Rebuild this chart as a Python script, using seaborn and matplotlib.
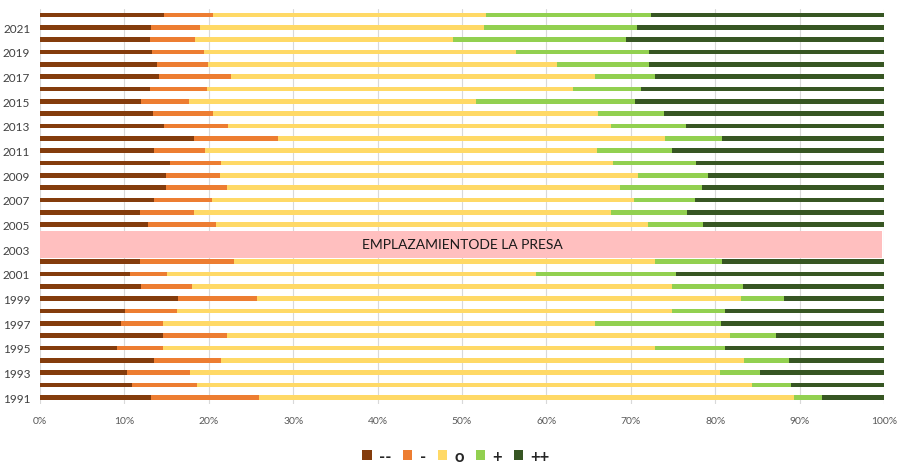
import numpy as np
import pandas as pd
import matplotlib
matplotlib.use("Agg")
import matplotlib.pyplot as plt
from matplotlib.patches import Patch, Rectangle
import seaborn as sns

# ---- data (percent per category), years from 2022 (top) down to 1991 ----
years = list(range(2022, 1990, -1))
nan = np.nan
very_neg = [14.7, 13.2, 13.0, 13.3, 13.9, 14.1, 13.0, 12.0, 13.4, 14.7, 18.2, 13.5, 15.4, 14.9, 14.9, 13.5, 11.9, 12.8,
            nan, nan,
            11.8, 10.7, 12.0, 16.3, 10.1, 9.6, 14.6, 9.1, 13.5, 10.3, 10.9, 13.1]
neg = [5.8, 5.7, 5.4, 6.1, 6.0, 8.5, 6.8, 5.6, 7.1, 7.6, 10.0, 6.1, 6.0, 6.4, 7.2, 6.9, 6.3, 8.0,
       nan, nan,
       11.2, 4.4, 6.0, 9.4, 6.1, 5.0, 7.6, 5.5, 7.9, 7.5, 7.7, 12.9]
neutral = [32.3, 33.7, 30.5, 37.0, 41.4, 43.2, 43.3, 34.0, 45.6, 45.4, 45.9, 46.4, 46.5, 49.6, 46.6, 50.0, 49.4, 51.2,
           nan, nan,
           49.9, 43.7, 56.9, 57.4, 58.7, 51.2, 59.6, 58.3, 62.0, 62.8, 65.8, 63.3]
pos = [19.6, 18.1, 20.5, 15.7, 10.8, 7.1, 8.1, 18.9, 7.8, 8.8, 6.7, 8.9, 9.8, 8.2, 9.7, 7.2, 9.0, 6.6,
       nan, nan,
       7.9, 16.5, 8.4, 5.1, 6.3, 14.9, 5.4, 8.3, 5.3, 4.7, 4.6, 3.4]
very_pos = [27.6, 29.3, 30.6, 27.9, 27.9, 27.1, 28.8, 29.5, 26.1, 23.5, 19.2, 25.1, 22.3, 20.9, 21.6, 22.4, 23.4, 21.4,
            nan, nan,
            19.2, 24.7, 16.7, 11.8, 18.8, 19.3, 12.8, 18.8, 11.3, 14.7, 11.0, 7.3]

labels = ["--", "-", "o", "+", "++"]
colors = ["#843C0C", "#ED7D31", "#FFD966", "#92D050", "#375623"]
band_text = "EMPLAZAMIENTODE LA PRESA"
band_years = (2004.49, 2002.32)

series = [very_neg, neg, neutral, pos, very_pos]
ycats = [str(y) for y in years]
df = pd.DataFrame({"year": ycats})
cum = np.zeros(len(years))
for lab, vals in zip(labels, series):
    cum = cum + np.array(vals, dtype=float)
    df[lab] = cum.copy()
# normalise so the last cumulative is 100
df[labels] = df[labels].div(df[labels[-1]], axis=0) * 100

sns.set_theme(style="white")
plt.rcParams["font.family"] = ["Lato", "DejaVu Sans"]

fig = plt.figure(figsize=(8.98, 4.64), dpi=100)
ax = fig.add_axes([40 / 898, 1 - 404.5 / 464, (884 - 40) / 898, (404.5 - 9.8) / 464])

for lab, col in zip(labels[::-1], colors[::-1]):
    sns.barplot(data=df, x=lab, y="year", order=ycats, orient="h", color=col,
                width=0.4, errorbar=None, ax=ax, saturation=1, linewidth=0)

ax.set_xlim(0, 100)
ax.set_ylim(len(years) - 0.5, -0.5)
ax.set_xticks(np.arange(0, 101, 10))
ax.set_xticklabels([f"{v}%" for v in range(0, 101, 10)], fontsize=7.5, color="#595959")
odd_pos = [i for i, y in enumerate(years) if y % 2 == 1]
ax.set_yticks(odd_pos)
ax.set_yticklabels([str(years[i]) for i in odd_pos], fontsize=8.5, color="#404040")
ax.tick_params(axis="both", length=0)
ax.tick_params(axis="y", pad=7)
ax.tick_params(axis="x", pad=9)
ax.set_xlabel("")
ax.set_ylabel("")
ax.xaxis.grid(True, color="#D9D9D9", linewidth=0.8)
ax.set_axisbelow(True)
for s in ax.spines.values():
    s.set_visible(False)

# band marking the dam location
top = 2022 - band_years[0]
bot = 2022 - band_years[1]
ax.add_patch(Rectangle((0, top), 99.8, bot - top, facecolor="#FFBFBF", edgecolor="none", zorder=3))
ax.text(50, (top + bot) / 2, band_text, ha="center", va="center", fontsize=10, color="#1a1a1a", zorder=4)

handles = [Patch(facecolor=c, edgecolor="none") for c in colors]
fig.legend(handles, labels, loc="center", bbox_to_anchor=(456 / 898, 1 - 457 / 464), ncol=5,
           frameon=False, handlelength=0.55, handleheight=0.55, handletextpad=0.45, columnspacing=0.7,
           prop={"size": 12, "weight": "bold"})

fig.savefig("out.png", dpi=100)
